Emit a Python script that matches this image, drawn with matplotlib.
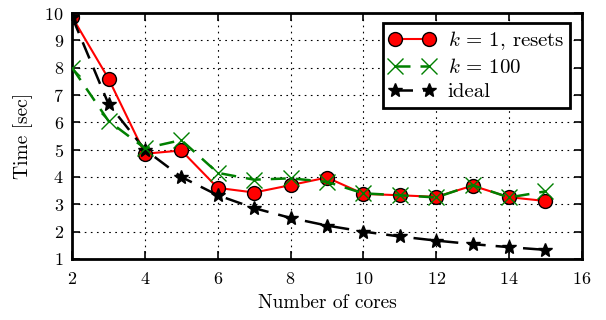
import matplotlib
matplotlib.use("Agg")
import matplotlib.pyplot as plt

plt.rcParams['font.family'] = ['cmr10', 'DejaVu Serif']
plt.rcParams['mathtext.fontset'] = 'cm'
plt.rcParams['axes.formatter.use_mathtext'] = True

cores = [2, 3, 4, 5, 6, 7, 8, 9, 10, 11, 12, 13, 14, 15]
k1_resets = [9.86, 7.6, 4.85, 4.97, 3.6, 3.43, 3.7, 3.98, 3.38, 3.33, 3.27, 3.68, 3.26, 3.12]
k100 = [8.0, 6.05, 5.05, 5.35, 4.15, 3.9, 3.95, 3.82, 3.4, 3.33, 3.25, 3.7, 3.25, 3.47]
ideal = [9.86, 6.67, 5.0, 4.0, 3.33, 2.86, 2.5, 2.22, 2.0, 1.82, 1.67, 1.54, 1.43, 1.33]

fig = plt.figure(figsize=(6.06, 3.2), dpi=100)
ax = fig.add_axes([0.119, 0.191, 0.841, 0.768])

ax.plot(cores, ideal, color='black', linestyle=(0, (7, 4)), linewidth=1.8,
        marker='*', markersize=10, markerfacecolor='black', markeredgecolor='black',
        label='ideal', zorder=3)
ax.plot(cores, k100, color='green', linestyle=(0, (6, 4)), linewidth=1.8,
        marker='x', markersize=11, markeredgewidth=1.0, label=r'$k$ = 100', zorder=4)
ax.plot(cores, k1_resets, color='red', linestyle='-', linewidth=1.5,
        marker='o', markersize=10, markerfacecolor='red', markeredgecolor='black',
        label=r'$k$ = 1, resets', zorder=2)

ax.set_xlim(2, 16)
ax.set_ylim(1, 10)
ax.set_xticks([2, 4, 6, 8, 10, 12, 14, 16])
ax.set_yticks(range(1, 11))
ax.grid(True, color='black', linestyle=(0, (1.5, 4)), linewidth=0.8)
ax.tick_params(direction='in', top=True, right=True, length=6, width=1.2, labelsize=13)
ax.tick_params(axis='x', pad=9)
ax.tick_params(axis='y', pad=6)
for s in ax.spines.values():
    s.set_linewidth(2.0)

ax.set_xlabel('Number of cores', fontsize=14, labelpad=5)
ax.set_ylabel('Time [sec]', fontsize=14, labelpad=8)

handles, labels = ax.get_legend_handles_labels()
order = [2, 1, 0]
leg = ax.legend([handles[i] for i in order], [labels[i] for i in order],
                loc='upper right', bbox_to_anchor=(0.99, 0.985), numpoints=2,
                fontsize=15, fancybox=False, framealpha=1, edgecolor='black',
                handlelength=2.2, handletextpad=0.6, borderpad=0.3, labelspacing=0.28,
                borderaxespad=0.3)
leg.get_frame().set_linewidth(2.0)

fig.savefig('out.png', dpi=100)
